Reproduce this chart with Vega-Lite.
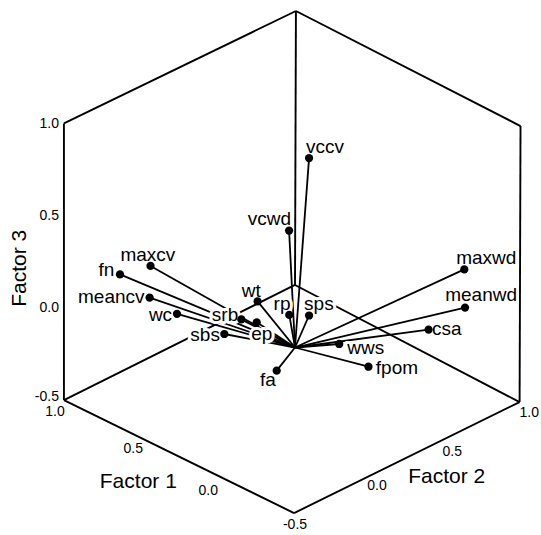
{
  "$schema": "https://vega.github.io/schema/vega-lite/v6.json",
  "width": 541,
  "height": 535,
  "padding": 0,
  "autosize": {"type": "none"},
  "background": "white",
  "config": {"view": {"stroke": null}, "text": {"font": "Liberation Sans", "color": "black"}},
  "datasets": {
    "frame": [
      {"u1": 0.005, "v1": 1.819, "u2": -1.249, "v2": 1.211},
      {"u1": -1.249, "v1": 1.211, "u2": -1.249, "v2": -0.284},
      {"u1": -1.249, "v1": -0.284, "u2": -0.005, "v2": -0.895},
      {"u1": -0.005, "v1": -0.895, "u2": 1.214, "v2": -0.295},
      {"u1": 1.214, "v1": -0.295, "u2": 1.219, "v2": 1.197},
      {"u1": 1.219, "v1": 1.197, "u2": 0.005, "v2": 1.819}
    ],
    "backEdges": [
      {"u1": 0.0, "v1": 0.338, "u2": 0.005, "v2": 1.819},
      {"u1": 0.0, "v1": 0.338, "u2": -1.249, "v2": -0.284},
      {"u1": 0.0, "v1": 0.338, "u2": 1.214, "v2": -0.295}
    ],
    "vars": [
      {"name": "vccv", "u": 0.076, "v": 1.024, "lu": 0.162, "lv": 1.086},
      {"name": "vcwd", "u": -0.032, "v": 0.632, "lu": -0.138, "lv": 0.695},
      {"name": "maxcv", "u": -0.781, "v": 0.441, "lu": -0.795, "lv": 0.5},
      {"name": "fn", "u": -0.946, "v": 0.395, "lu": -1.019, "lv": 0.419},
      {"name": "meancv", "u": -0.786, "v": 0.27, "lu": -0.993, "lv": 0.273},
      {"name": "wc", "u": -0.638, "v": 0.182, "lu": -0.727, "lv": 0.174},
      {"name": "srb", "u": -0.29, "v": 0.152, "lu": -0.378, "lv": 0.176},
      {"name": "ep", "u": -0.207, "v": 0.136, "lu": -0.18, "lv": 0.071},
      {"name": "sbs", "u": -0.382, "v": 0.073, "lu": -0.486, "lv": 0.068},
      {"name": "wt", "u": -0.202, "v": 0.249, "lu": -0.236, "lv": 0.305},
      {"name": "rp", "u": -0.031, "v": 0.176, "lu": -0.07, "lv": 0.235},
      {"name": "sps", "u": 0.076, "v": 0.173, "lu": 0.129, "lv": 0.235},
      {"name": "wws", "u": 0.239, "v": 0.019, "lu": 0.382, "lv": 0.0},
      {"name": "fpom", "u": 0.397, "v": -0.104, "lu": 0.551, "lv": -0.111},
      {"name": "csa", "u": 0.722, "v": 0.097, "lu": 0.821, "lv": 0.1},
      {"name": "meanwd", "u": 0.919, "v": 0.216, "lu": 1.006, "lv": 0.285},
      {"name": "maxwd", "u": 0.915, "v": 0.422, "lu": 1.034, "lv": 0.484},
      {"name": "fa", "u": -0.099, "v": -0.125, "lu": -0.147, "lv": -0.176}
    ],
    "ticks": [
      {"label": "1.0", "u": -1.328, "v": 1.208},
      {"label": "0.5", "u": -1.328, "v": 0.711},
      {"label": "0.0", "u": -1.328, "v": 0.214},
      {"label": "-0.5", "u": -1.341, "v": -0.268},
      {"label": "1.0", "u": -1.297, "v": -0.349},
      {"label": "0.5", "u": -0.874, "v": -0.55},
      {"label": "0.0", "u": -0.469, "v": -0.774},
      {"label": "1.0", "u": 1.266, "v": -0.352},
      {"label": "0.5", "u": 0.85, "v": -0.563},
      {"label": "0.0", "u": 0.443, "v": -0.747},
      {"label": "-0.5", "u": 0.0, "v": -0.959}
    ],
    "titles": [
      {"label": "Factor 1", "u": -0.847, "v": -0.725},
      {"label": "Factor 2", "u": 0.82, "v": -0.698}
    ],
    "vtitle": [
      {"label": "Factor 3", "u": -1.489, "v": 0.428}
    ]
  },
  "layer": [
    {
      "data": {"name": "backEdges"},
      "mark": {"type": "rule", "color": "black", "strokeWidth": 1.9},
      "encoding": {
        "x": {"field": "u1", "type": "quantitative", "axis": null, "scale": {"domain": [-1.5946, 1.3297], "nice": false, "zero": false}},
        "y": {"field": "v1", "type": "quantitative", "axis": null, "scale": {"domain": [-1.0135, 1.8784], "nice": false, "zero": false}},
        "x2": {"field": "u2"},
        "y2": {"field": "v2"}
      }
    },
    {
      "data": {"name": "vars"},
      "mark": {"type": "rule", "color": "black", "strokeWidth": 1.8},
      "encoding": {
        "x": {"field": "u", "type": "quantitative"},
        "y": {"field": "v", "type": "quantitative"},
        "x2": {"datum": 0},
        "y2": {"datum": 0}
      }
    },
    {
      "data": {"name": "vars"},
      "mark": {"type": "text", "fontSize": 19, "baseline": "middle", "align": "center", "fill": "white", "stroke": "white", "strokeWidth": 6, "strokeJoin": "round"},
      "encoding": {
        "x": {"field": "lu", "type": "quantitative"},
        "y": {"field": "lv", "type": "quantitative"},
        "text": {"field": "name"}
      }
    },
    {
      "data": {"name": "frame"},
      "mark": {"type": "rule", "color": "black", "strokeWidth": 1.9},
      "encoding": {
        "x": {"field": "u1", "type": "quantitative"},
        "y": {"field": "v1", "type": "quantitative"},
        "x2": {"field": "u2"},
        "y2": {"field": "v2"}
      }
    },
    {
      "data": {"name": "vars"},
      "mark": {"type": "point", "shape": "circle", "filled": true, "color": "black", "size": 68, "opacity": 1},
      "encoding": {
        "x": {"field": "u", "type": "quantitative"},
        "y": {"field": "v", "type": "quantitative"}
      }
    },
    {
      "data": {"name": "vars"},
      "mark": {"type": "text", "fontSize": 19, "baseline": "middle", "align": "center"},
      "encoding": {
        "x": {"field": "lu", "type": "quantitative"},
        "y": {"field": "lv", "type": "quantitative"},
        "text": {"field": "name"}
      }
    },
    {
      "data": {"name": "ticks"},
      "mark": {"type": "text", "fontSize": 14, "baseline": "middle", "align": "center"},
      "encoding": {
        "x": {"field": "u", "type": "quantitative"},
        "y": {"field": "v", "type": "quantitative"},
        "text": {"field": "label"}
      }
    },
    {
      "data": {"name": "titles"},
      "mark": {"type": "text", "fontSize": 21, "baseline": "middle", "align": "center"},
      "encoding": {
        "x": {"field": "u", "type": "quantitative"},
        "y": {"field": "v", "type": "quantitative"},
        "text": {"field": "label"}
      }
    },
    {
      "data": {"name": "vtitle"},
      "mark": {"type": "text", "fontSize": 21, "baseline": "middle", "align": "center", "angle": 270},
      "encoding": {
        "x": {"field": "u", "type": "quantitative"},
        "y": {"field": "v", "type": "quantitative"},
        "text": {"field": "label"}
      }
    }
  ]
}
